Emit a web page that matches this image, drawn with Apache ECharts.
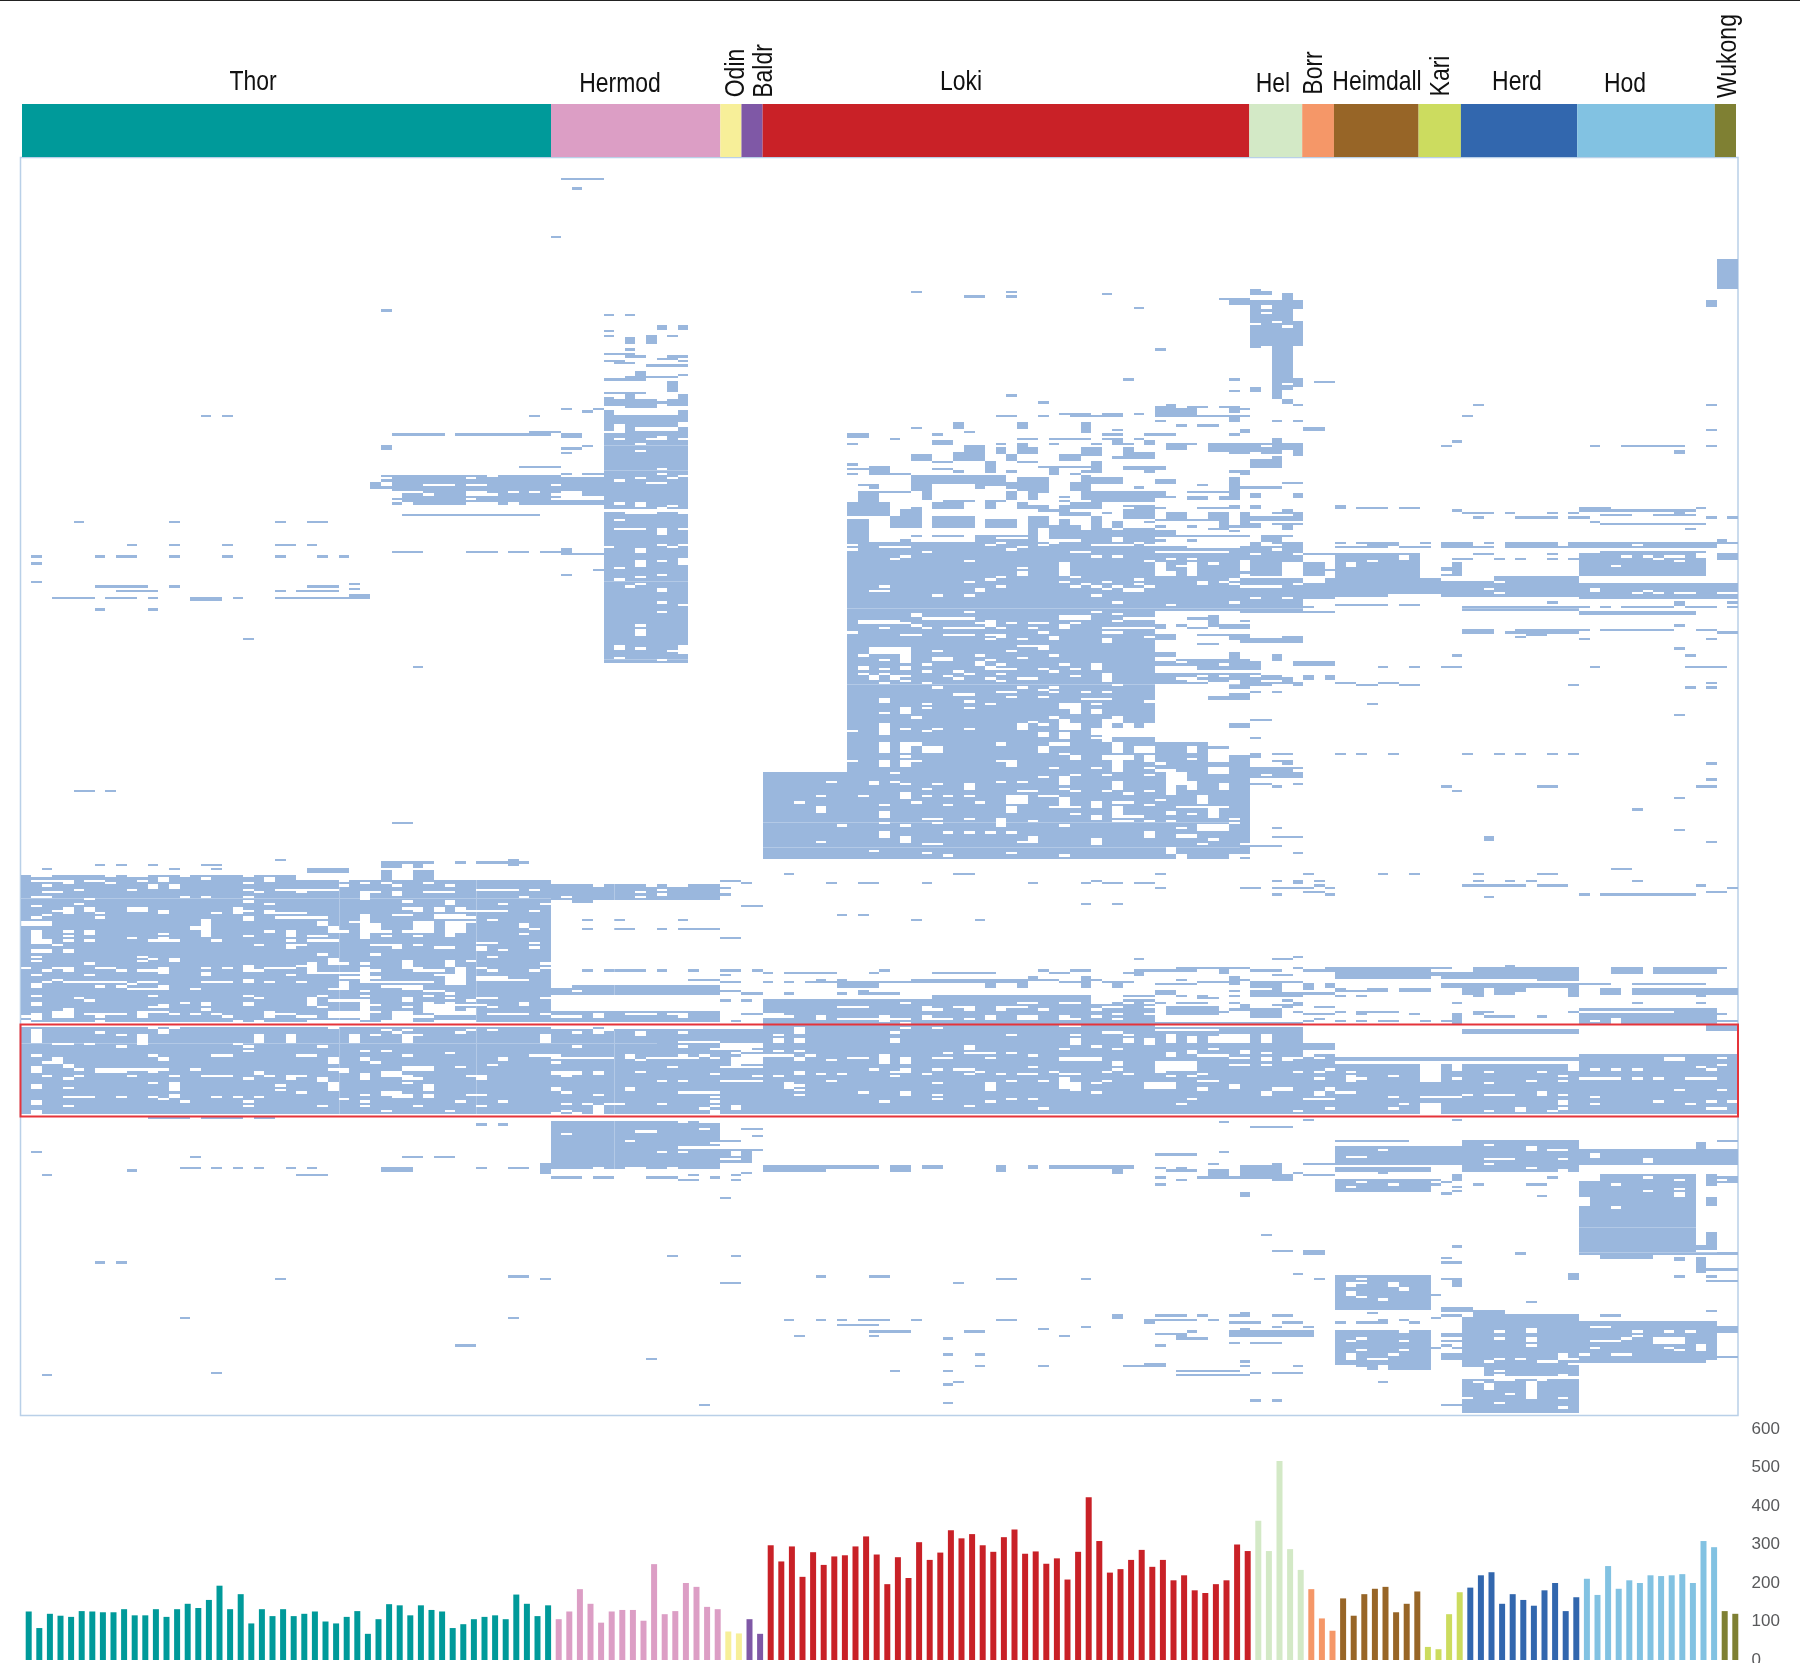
<!DOCTYPE html>
<html><head><meta charset="utf-8">
<style>html,body{margin:0;padding:0;background:#fff}#c{width:1800px;height:1663px}</style>
<script src="https://cdn.jsdelivr.net/npm/echarts@6/dist/echarts.min.js"></script></head>
<body><div id="c"></div>
<script>
const groupNames=['Thor','Hermod','Odin','Baldr','Loki','Hel','Borr','Heimdall','Kari','Herd','Hod','Wukong'];
const groupSizes=[50,16,2,2,46,5,3,8,4,11,13,2];
const groupColors=['#009a9a','#dc9ec5','#f7ef99','#7f58a6','#c92127','#d3e9c6','#f59768','#976527','#ccdc5f','#3267ae','#82c2e2','#7f8033'];
const yTicks=[0,100,200,300,400,500,600];
const thorBars=[126,83,120,115,112,127,126,124,124,132,116,116,132,112,132,146,135,156,193,132,171,95,132,114,132,114,120,126,100,95,112,127,68,106,145,142,116,142,130,126,83,93,106,112,116,106,170,146,114,142];
const hermodBars=[106,126,184,146,97,126,130,130,102,249,119,127,200,190,138,132];
const odinBars=[74,69];
const baldrBars=[106,68];
const lokiBars=[298,256,295,216,280,247,269,272,295,321,274,197,267,213,306,260,279,337,316,327,298,281,319,339,276,282,250,264,209,281,423,309,227,236,260,286,242,260,207,220,181,174,197,207,300,283];
const helBars=[362,283,517,288,234];
const borrBars=[184,108,76];
const heimdallBars=[160,115,171,185,190,124,146,178];
const kariBars=[34,28,119,176];
const herdBars=[188,220,228,146,171,156,141,181,200,127,163];
const hodBars=[211,169,244,185,207,200,220,218,220,223,200,309,293];
const wukongBars=[127,120];
const allBars=[thorBars,hermodBars,odinBars,baldrBars,lokiBars,helBars,borrBars,heimdallBars,kariBars,herdBars,hodBars,wukongBars];
const COLS=162,ROWS=547;
const highlightBand=[0,162,377,417];
// faint tile seams inside filled areas: rows [col0,col1,row], columns [col,row0,row1]
const seamRows=[[0,50,322],[0,60,385],[55,63,125],[55,63,136],[55,63,184],[55,63,218],[78,115,229],[70,115,289],[70,115,300],[78,150,196],[147,158,465],[147,160,476]];
const seamCols=[[30,312,416],[43,312,416],[56,316,364],[56,380,416],[56,419,440]];

// matrix is described as runs: filled blocks [col0,col1,row0,row1), cleared gaps, single-row runs [col0,col1,row)
const hermodFilled=[[55,63,112,220],[62,63,103,108],[61,62,105,108],[55,60,105,108],[60,61,106,108],[57,60,108,109],[57,58,103,105],[55,56,104,108],[55,56,110,112],[62,63,110,112],[58,59,93,97],[60,62,95,96],[57,60,95,96],[61,62,97,102],[35,55,138,151],[33,34,141,144],[48,50,119,121],[51,53,120,122],[34,35,125,127],[51,52,170,173],[60,61,73,75],[62,63,73,75],[57,58,78,81],[59,60,78,81],[50,66,316,323],[49,50,314,323],[52,54,323,324],[49,50,325,330],[49,50,331,340],[49,50,342,350],[49,50,353,355],[50,66,360,364],[49,50,358,365],[50,66,371,376],[50,66,419,440],[49,50,437,442],[66,69,432,437],[33,34,141,144]];
const hermodCleared=[[60,61,107,108],[55,56,119,120],[56,57,116,120],[58,59,117,119],[59,62,117,119],[62,63,115,117],[60,61,121,123],[58,59,170,172],[58,59,175,178],[62,63,174,177],[60,61,161,164],[60,61,187,189],[58,59,205,208],[56,57,212,214],[62,63,212,216],[42,44,145,147],[51,53,145,149],[53,55,147,149],[35,36,146,148],[35,36,149,150],[58,59,150,152],[57,60,154,155],[62,63,154,155],[55,63,153,154],[44,45,138,139],[51,55,138,139],[54,55,316,317],[59,60,316,317],[61,63,316,317],[50,51,360,361],[67,68,432,434],[66,68,435,436]];
const hermodThinCleared=[[56,57,122],[59,60,122],[62,63,122],[58,59,124],[58,59,127],[60,61,135],[60,61,137],[62,63,138],[61,62,139],[58,59,139],[56,57,140],[59,61,141],[56,57,150],[60,61,152],[61,62,151],[56,57,157],[56,57,161],[57,58,161],[58,59,161],[62,63,161],[55,56,169],[60,61,168],[61,62,169],[62,63,168],[60,61,175],[56,57,178],[60,61,181],[56,57,183],[58,59,182],[58,59,185],[57,58,186],[60,61,193],[62,63,194],[60,61,197],[58,59,203],[58,59,213],[61,62,214],[56,57,217],[60,61,218],[42,43,139],[38,41,142],[42,44,142],[50,51,142],[48,49,145],[35,38,145],[38,39,146],[43,44,145],[44,45,146],[46,47,145],[50,51,146],[50,51,148],[42,43,148],[42,45,150],[36,37,150],[46,47,150],[52,53,151],[51,52,321],[58,59,319],[58,59,321],[60,61,318],[60,61,320],[51,52,360],[52,53,362],[64,65,422],[51,52,424],[58,60,423],[57,58,427],[65,66,428],[62,66,430],[60,61,432],[62,63,432],[57,59,439],[61,62,439],[54,55,439],[62,63,419],[64,66,419],[50,53,373],[54,55,372],[54,55,373],[57,60,372],[61,63,372],[62,63,373]];
const hermodMarks=[[51,55,9],[52,53,13],[50,51,34],[34,35,66],[55,56,68],[57,58,68],[55,56,75],[55,56,77],[59,60,77],[61,62,77],[57,58,83],[55,58,85],[57,59,86],[60,62,87],[61,63,86],[62,63,88],[55,57,88],[56,58,89],[59,63,90],[62,63,94],[55,58,96],[55,59,102],[48,49,112],[51,52,109],[53,54,110],[54,55,109],[35,40,120],[41,50,120],[50,51,119],[51,53,126],[53,54,125],[51,52,128],[47,51,134],[51,52,137],[53,55,137],[34,35,138],[34,35,140],[34,35,143],[36,48,155],[48,49,155],[35,38,171],[42,45,171],[46,48,171],[49,51,171],[52,55,172],[54,55,179],[51,52,181],[31,32,185],[31,32,187],[31,33,190],[37,38,221],[17,18,112],[19,20,112],[68,70,325],[66,67,317],[66,67,320],[66,68,339],[53,54,331],[56,57,331],[62,63,331],[53,54,335],[56,58,335],[60,61,335],[62,66,335],[49,50,351],[53,54,353],[55,59,353],[60,61,353],[63,64,353],[66,68,353],[69,70,353],[66,67,355],[63,66,357],[66,68,358],[66,68,362],[68,70,363],[66,67,366],[68,69,366],[49,50,367],[49,50,369],[49,50,371],[49,50,373],[68,70,372],[67,68,375],[66,68,314],[68,69,315],[68,70,422],[69,70,425],[66,68,427],[66,70,431],[68,69,441],[67,68,444],[50,53,443],[54,56,443],[59,62,443],[62,64,444],[63,64,442],[65,66,443]];

const thorFilled=[[0,50,312,376],[0,50,378,416],[50,70,378,416],[27,31,309,311],[34,36,306,309],[36,39,306,307],[37,38,307,309],[46,47,305,308],[12,16,417,418],[17,21,417,418],[22,24,417,418]];
const thorThinCleared=[[1,4,314],[4,5,314],[4,5,315],[6,8,314],[8,9,315],[11,12,314],[17,18,313],[2,3,316],[21,22,315],[21,22,318],[22,23,319],[5,6,318],[10,11,318],[2,4,319],[1,3,321],[15,16,321],[17,18,321],[24,25,318],[25,26,318],[27,30,318],[30,31,314],[30,31,316],[21,22,321],[21,22,323],[23,24,324],[6,7,322],[5,6,324],[1,2,325],[3,4,327],[7,8,328],[18,19,328],[21,22,327],[21,22,330],[21,22,331],[24,27,328],[24,29,330],[2,3,329],[1,2,330],[7,8,330],[30,31,336],[4,5,336],[4,5,338],[4,5,340],[6,7,340],[10,11,339],[13,14,337],[12,15,340],[18,19,340],[21,22,338],[23,24,336],[25,26,340],[25,26,342],[27,29,338],[27,30,340],[26,27,342],[22,23,342],[3,4,342],[25,26,343],[1,2,347],[1,2,349],[11,12,347],[11,12,349],[12,13,348],[28,29,346],[6,7,350],[30,31,350],[32,33,350],[0,1,352],[2,3,353],[3,5,352],[4,5,353],[7,9,352],[9,10,353],[11,13,353],[17,18,352],[19,20,352],[22,23,353],[23,26,352],[26,27,351],[28,32,354],[30,32,356],[33,34,353],[33,34,356],[1,2,355],[6,7,355],[25,26,355],
 [1,3,312],[8,9,312],[10,12,312],[15,16,312],[21,22,312],[26,30,312],[26,30,313]];
const thorRightCleared=[[30,50,312,314],[32,33,320,323],[35,36,319,321],[37,38,326,328],[39,40,326,328],[41,42,326,328],[32,33,329,331],[39,42,329,331],[32,33,331,340],[33,34,333,337],[37,39,332,337],[40,42,332,337],[40,41,337,339],[47,48,333,335],[35,36,342,344],[43,44,343,345],[36,37,349,353],[40,41,349,352],[41,42,352,355],[40,42,355,360],[43,46,356,358],[30,31,358,362],[41,42,355,360],[1,2,359,361],[13,14,360,362],[1,2,367,369],[21,22,367,369],[27,28,365,369],[36,37,365,367],[17,18,367,369],[47,48,367,369],[39,41,369,372],[1,2,372,375],[3,5,371,374],[4,5,370,371],[11,12,371,374],[23,24,371,374],[29,32,371,374],[32,33,366,375],[35,37,371,376],[38,39,369,372],[40,43,371,373]];
const thorRightThin=[[32,33,315],[34,35,315],[35,36,316],[38,39,315],[40,41,316],[32,34,319],[38,41,319],[43,47,318],[48,49,318],[36,37,323],[40,41,323],[47,48,321],[40,41,324],[45,46,324],[49,50,324],[35,37,329],[36,37,326],[42,46,327],[48,49,327],[40,43,330],[31,32,332],[34,35,336],[34,35,338],[36,37,336],[42,43,332],[44,45,331],[48,49,335],[47,48,337],[37,38,338],[34,35,342],[33,34,342],[37,38,342],[39,41,343],[43,45,341],[45,46,344],[48,49,341],[48,49,343],[33,34,346],[44,45,347],[42,43,349],[43,44,352],[44,45,353],[37,38,352],[37,40,353],[49,50,350],[49,50,352],[48,49,353],[39,40,355],[32,39,358],[46,48,357],[2,3,358],[3,4,357],[4,10,358],[10,11,359],[11,13,358],[10,14,361],[7,8,360],[9,10,360],[16,17,361],[17,20,358],[21,22,357],[21,22,358],[23,24,358],[26,27,358],[29,30,361],[32,33,362],[34,35,360],[35,38,360],[36,38,361],[38,40,362],[40,41,363],[1,2,364],[5,6,365],[6,7,366],[12,13,364],[21,22,364],[22,23,365],[28,29,364],[29,30,366],[30,32,366],[32,33,364],[15,16,367],[38,39,364],[38,39,367],[40,41,365],[40,41,367],[42,43,366],[43,45,365],[49,50,365],[49,50,367],[33,34,368],[38,44,368],[12,14,369],[13,14,368],[28,29,369],[36,37,369],[42,43,370],[44,45,369],[6,10,372],[7,8,373],[12,14,371],[14,15,372],[16,17,372],[17,18,370],[18,19,372],[19,20,373],[24,26,372],[26,28,373],[33,34,371],[37,39,373],[39,40,372],[44,48,372],[49,50,372],[49,50,373],[0,2,373],[0,1,375],[7,8,375],[20,21,375],[22,23,375],[27,32,375],[34,35,375],[39,43,375]];
const thorCleared=[[13,14,313,315],[12,13,316,318],[14,15,316,318],[26,27,318,320],[4,5,326,329],[6,7,326,328],[10,12,326,328],[13,14,327,329],[20,21,326,329],[23,24,327,329],[0,3,332,334],[17,18,331,339],[16,17,334,336],[28,29,332,334],[29,30,334,337],[1,2,336,342],[2,3,340,342],[6,7,336,338],[13,14,339,340],[25,26,336,339],[1,3,344,346],[4,5,344,346],[14,15,348,350],[29,30,348,351],[13,14,352,355],[21,22,351,354],[17,18,354,356],[27,28,350,355],[32,33,352,358],[0,50,376,378],[23,24,313,315]];
const thorLowerCleared=[[1,2,379,385],[11,12,381,386],[13,14,379,381],[22,23,381,385],[25,26,381,385],[31,32,381,385],[36,37,381,385],[49,50,381,385],[13,14,391,393],[29,30,391,394],[32,33,391,393],[45,46,391,393],[3,4,391,394],[4,5,394,396],[1,2,396,398],[7,10,396,398],[12,13,396,398],[22,23,397,399],[25,26,399,401],[28,29,400,402],[30,31,396,398],[32,33,398,401],[34,36,397,400],[36,39,395,397],[36,37,399,401],[43,44,399,401],[1,2,403,405],[14,15,402,406],[29,30,402,406],[38,39,403,406],[14,15,407,409],[34,36,406,408],[35,37,407,409],[38,39,407,409],[1,2,410,412],[1,2,414,416]];
const thorLowerThin=[[7,8,380],[9,10,381],[12,13,378],[14,15,378],[29,30,378],[33,34,381],[34,35,379],[35,36,380],[36,37,379],[37,38,381],[41,42,380],[42,43,379],[44,45,379],[3,4,385],[4,5,385],[6,7,385],[9,10,386],[20,21,385],[21,22,386],[21,22,388],[28,29,386],[1,2,390],[12,13,390],[18,20,390],[26,28,390],[32,33,388],[33,34,393],[34,35,388],[36,37,390],[40,41,389],[44,45,394],[48,51,390],[2,3,393],[5,6,396],[1,2,395],[2,3,399],[4,5,400],[5,6,399],[10,12,396],[10,11,399],[13,14,396],[14,15,399],[16,17,396],[17,20,399],[21,22,400],[23,24,399],[26,27,399],[29,30,396],[37,38,400],[41,42,395],[42,44,399],[4,5,404],[12,13,402],[24,25,403],[24,25,405],[26,27,406],[36,37,402],[4,7,408],[9,10,408],[12,13,408],[13,14,409],[15,16,410],[18,19,408],[20,21,408],[21,22,410],[22,23,408],[30,31,409],[32,33,407],[32,33,410],[41,42,410],[42,44,407],[45,46,410],[4,5,412],[21,22,412],[28,29,412],[32,33,412],[37,38,412],[43,44,412],[34,35,414],[40,41,414],[0,6,416],[7,50,416]];
const hermodLowerCleared=[[73,74,378,381],[71,72,383,385],[73,74,383,385],[82,83,383,385],[99,100,383,386],[104,105,383,385],[106,107,383,386],[49,50,381,385],[66,70,385,387],[89,90,386,388],[67,68,391,395],[68,70,391,394],[66,70,395,396],[81,82,390,394],[83,84,391,394],[86,88,391,392],[91,92,391,392],[98,102,391,393],[103,104,393,395],[73,74,391,393],[50,53,397,399],[54,55,397,399],[73,74,397,399],[83,84,396,398],[98,99,400,405],[99,100,402,406],[106,107,402,405],[50,51,404,406],[57,58,404,406],[72,73,402,405],[91,92,402,406],[83,84,406,408],[67,68,412,414],[65,66,414,416],[54,55,412,416]];
const hermodLowerThin=[[50,54,378],[54,55,379],[55,60,378],[60,70,378],[52,53,380],[54,55,380],[55,56,379],[58,59,380],[58,59,381],[62,63,380],[71,72,381],[82,83,380],[83,84,378],[86,87,378],[93,94,381],[98,100,377],[99,100,381],[102,104,380],[104,105,381],[52,53,386],[62,66,384],[62,63,386],[65,69,387],[98,99,387],[101,102,386],[103,104,387],[71,72,388],[73,74,388],[67,68,389],[68,70,388],[68,70,390],[70,73,390],[74,75,390],[49,51,390],[57,58,390],[62,63,390],[87,88,389],[89,92,389],[93,94,389],[95,96,390],[50,56,391],[57,58,391],[58,59,392],[59,64,391],[64,65,390],[65,66,391],[50,51,393],[61,62,395],[78,80,391],[76,77,392],[95,96,395],[51,52,399],[58,59,397],[65,66,398],[69,70,399],[66,69,401],[69,70,401],[71,72,399],[75,76,398],[77,78,398],[80,81,396],[82,83,397],[82,83,399],[85,86,398],[86,87,396],[88,90,396],[89,90,398],[90,91,397],[92,93,398],[94,96,398],[97,98,397],[98,100,398],[102,103,397],[103,104,396],[104,105,398],[60,61,401],[62,63,401],[76,77,401],[86,87,402],[93,94,401],[96,97,401],[101,102,402],[102,103,401],[51,52,406],[54,55,407],[62,66,406],[73,74,403],[73,74,405],[73,74,407],[79,80,406],[101,102,406],[86,87,407],[86,87,409],[65,66,408],[65,66,410],[65,66,412],[64,65,413],[51,52,411],[53,54,411],[55,57,411],[60,61,411],[81,82,410],[91,92,410],[93,94,409],[95,96,409],[89,90,412],[96,97,413],[50,51,415],[51,52,414],[52,53,415]];

const lokiFilled=[[78,115,167,197],[78,107,197,248],[70,78,267,305],[78,103,248,305],[103,114,254,305],[114,116,260,305],[103,104,246,249],[105,106,245,250],[103,107,252,254],[107,117,219,229],[70,124,378,416],[70,84,366,378],[84,107,364,378],[70,76,438,441],[75,81,438,440],[82,84,438,441],[85,87,438,440],[92,93,438,441],[95,96,438,440],[97,105,438,440],[103,104,440,442],[116,118,265,268],[114,116,229,231],[112,115,234,236],[114,116,233,236],[114,116,246,248],[107,109,215,217],[114,115,215,221],[116,117,219,221],[112,113,199,204],[107,108,203,205],[113,116,203,205],[107,109,207,210],[114,116,207,210],[120,121,208,210],[110,115,218,222],[109,110,218,220],[107,109,220,222],[118,119,216,218],[120,123,219,221],
 [77,78,357,361],[78,81,358,361],[100,101,356,361],[103,104,358,361],[91,92,359,361],[94,95,359,361],[75,76,357,358],[79,80,362,364],
 [78,80,120,122],[86,88,123,125],[89,91,125,129],[92,93,126,129],[94,95,124,129],[95,96,126,129],[106,107,123,125],[108,110,124,127],[112,114,124,128],[114,118,124,129],[118,119,122,125],[118,119,125,129],[120,121,126,130],[100,102,126,130],[104,105,126,130],[105,107,128,131],[84,86,129,132],[88,91,128,132],[93,94,129,132],[98,100,129,132],[116,118,131,135],[118,119,130,134],[91,92,132,136],[101,102,132,137],[80,82,134,138],[97,98,135,138],[104,108,134,136],[106,107,136,137],[88,89,115,118],[94,95,115,118],[100,101,115,120],[107,109,108,113],[109,111,109,113],[114,115,108,111],[114,115,112,115],[99,101,111,113],[102,104,111,113],[103,104,122,125],
 [84,86,138,145],[86,93,138,142],[90,91,142,144],[91,94,141,143],[93,94,141,144],[94,97,139,145],[99,100,141,145],[100,101,138,149],[101,104,139,142],[95,96,145,149],[79,81,145,151],[85,86,145,149],[93,94,145,149],[101,107,145,150],[107,108,145,148],[114,115,139,149],[107,109,140,142],[110,112,147,149],[113,114,147,149],
 [86,89,150,153],[91,92,149,153],[94,95,150,153],[95,97,151,153],[98,99,151,156],[99,102,150,153],[78,82,150,156],[83,84,153,161],[84,85,152,156],[82,83,156,161],[83,85,156,161],[86,90,156,161],[91,94,157,161],[78,80,157,167],[96,97,156,161],[95,96,156,167],[98,99,157,162],[97,100,160,166],[99,101,154,156],[101,102,156,162],[100,103,162,167],[105,107,151,157],[104,105,153,157],[108,110,154,157],[112,114,154,157],[113,114,156,161],[115,116,157,161],[103,104,158,161],[103,104,162,165],[104,107,161,167],[107,109,162,165],[117,119,164,167],[90,92,164,167]];
const lokiCleared=[[80,84,213,216],[86,88,217,219],[83,84,217,220],[79,80,221,223],[83,84,221,223],[80,81,225,227],[82,83,225,227],[101,102,220,223],[102,103,224,228],[81,82,235,237],[83,84,239,242],[98,100,237,240],[99,100,240,242],[101,102,240,242],[98,99,244,249],[99,100,246,249],[102,103,244,249],[103,104,243,246],[94,95,246,249],[81,82,246,249],[81,82,249,251],[89,90,272,275],[96,97,250,252],[98,99,250,253],[101,102,248,251],[81,82,254,259],[83,84,254,259],[84,85,254,256],[85,87,256,259],[92,93,254,256],[96,97,256,259],[97,99,254,256],[103,104,254,259],[105,107,256,259],[110,111,256,259],[112,114,254,256],[112,114,257,263],[93,94,262,265],[81,82,262,265],[83,84,262,265],[99,100,260,262],[102,105,260,262],[103,104,261,267],[106,107,260,263],[112,114,265,268],[108,110,267,273],[80,81,271,273],[98,99,269,273],[103,104,271,275],[108,109,272,277],[110,111,271,275],[113,114,272,275],[111,112,277,281],[83,84,276,279],[75,76,282,285],[93,95,277,280],[98,99,278,282],[93,94,282,285],[101,102,280,283],[103,104,282,286],[81,82,284,287],[112,113,283,287],[108,109,284,286],[101,102,286,288],[92,93,288,291],[81,82,293,296],[106,107,293,296],[109,111,294,296],[111,114,290,293],[83,84,295,298],[95,96,295,298],[101,102,296,299],[108,109,300,303],[109,110,303,306],[114,116,303,306],[102,103,248,254],[104,105,246,252],[106,107,246,252],[103,104,249,252],[103,107,248,252],[85,87,256,259],
 [85,86,369,371],[75,76,373,375],[81,82,373,376],[91,92,373,375],[94,96,373,375],[98,99,373,375],[101,104,364,367],[101,103,367,368],[107,108,176,182],[108,109,180,182],[110,111,176,182],[98,99,176,182],[84,86,364,366],[121,124,378,385],[121,124,388,390]];
const lokiBandThin=[[77,80,369],[83,84,367],[86,87,370],[88,90,369],[89,90,370],[92,95,369],[92,93,370],[94,96,367],[96,97,370],[98,99,367],[99,100,367],[104,105,367],[102,104,369],[101,102,370],[70,72,372],[70,73,373],[77,81,374],[82,84,374],[83,84,376],[85,86,373],[85,86,374],[86,88,374],[89,90,374],[99,100,374],[101,102,373],[103,104,372],[103,104,374],[106,107,372],[106,107,369],[105,107,365],[106,107,367],[104,106,365]];
const lokiThin=[[83,84,216],[79,80,216],[86,87,214],[81,82,218],[85,86,220],[81,82,222],[85,86,223],[88,89,223],[79,80,224],[81,82,224],[83,84,225],[83,84,227],[87,88,225],[88,89,226],[89,90,224],[81,82,228],[85,86,228],[90,91,216],[91,92,218],[90,91,219],[90,91,220],[91,92,221],[91,92,222],[92,93,220],[92,94,222],[92,93,224],[91,92,226],[92,93,227],[94,96,226],[96,97,222],[97,98,223],[94,95,217],[93,94,214],[97,98,216],[98,99,220],[99,100,222],[99,100,225],[103,104,229],[86,87,230],[88,90,233],[92,94,232],[94,95,230],[96,97,231],[97,98,230],[97,98,232],[93,94,234],[96,97,234],[100,101,232],[102,103,232],[100,102,235],[101,102,237],[102,103,235],[106,107,236],[89,90,236],[85,86,237],[91,92,237],[89,90,239],[85,86,239],[81,82,241],[84,85,243],[97,98,243],[96,97,246],[95,96,245],[78,79,249],[83,84,248],[85,86,249],[86,87,248],[89,90,248],[101,102,252],[83,84,260],[84,85,262],[78,79,262],[92,93,262],[98,99,259],[110,111,261],[107,108,263],[97,98,265],[101,102,265],[106,107,265],[107,109,266],[82,83,267],[102,103,268],[99,100,268],[106,107,268],[76,77,271],[82,83,271],[83,84,272],[86,87,272],[85,86,274],[92,93,271],[94,95,271],[96,97,269],[98,99,274],[99,100,275],[102,103,275],[104,105,276],[106,107,275],[79,80,277],[75,76,277],[73,74,280],[81,82,281],[84,85,280],[85,86,277],[87,88,277],[87,88,281],[89,90,277],[90,91,280],[93,95,280],[94,96,275],[96,98,277],[97,100,282],[103,105,280],[107,108,279],[109,110,282],[110,114,282],[110,111,285],[106,107,281],[85,87,287],[89,90,287],[92,93,287],[99,100,285],[103,106,286],[103,105,288],[106,107,288],[108,109,288],[95,96,288],[114,115,287],[77,78,290],[81,82,289],[83,84,290],[86,87,289],[98,99,290],[114,115,289],[87,88,293],[89,90,293],[91,92,293],[93,94,293],[109,110,291],[75,76,297],[85,87,298],[94,95,297],[111,112,298],[112,113,296],[115,116,298],[80,81,301],[85,86,302],[93,94,302],[87,88,303],[98,99,303],
 [78,79,168],[78,79,170],[81,84,169],[91,92,168],[92,93,167],[94,95,169],[93,94,170],[96,97,168],[97,98,167],[99,101,171],[101,103,168],[103,105,168],[105,106,167],[106,107,168],[107,114,171],[85,86,171],[82,83,174],[83,84,173],[89,90,175],[101,102,173],[103,104,173],[106,107,175],[94,95,178],[94,95,180],[94,95,181],[99,100,182],[92,93,182],[91,92,183],[89,90,184],[81,82,186],[80,82,188],[92,93,186],[90,91,187],[90,91,188],[86,87,190],[89,90,190],[98,99,184],[99,100,186],[100,101,185],[101,102,186],[102,103,184],[102,103,187],[103,104,186],[104,106,187],[104,106,188],[105,106,183],[105,106,185],[106,107,186],[101,102,190],[103,104,193],[108,109,194],[108,109,174],[110,111,174],[109,110,177],[111,112,184],[111,112,185],[112,113,176],[113,114,184],[114,115,183],[114,115,185],[114,115,193],[89,90,197],[101,102,197],[103,104,198],[107,110,167],[107,110,168],[110,115,167],[110,115,168],[110,115,169],
 [84,85,198],[84,85,199],[85,90,200],[91,92,201],[91,92,202],[91,92,203],[90,91,202],[93,94,202],[95,97,202],[98,101,199],[98,101,200],[98,99,203],[98,99,204],[99,100,202],[103,104,201],[104,107,200],[79,83,201],[79,83,202],[81,82,204],[83,84,202],[84,85,203],[85,86,204],[87,91,204],[92,93,204],[95,96,204],[102,107,204],[102,104,206],[96,97,206],[78,79,206],[83,85,207],[87,90,207],[91,92,207],[92,93,207],[92,93,208],[91,92,209],[94,95,209],[97,98,208],[97,98,209],[102,103,209],[102,103,210],[106,107,208],[95,97,212],[96,97,213],[93,94,214],[94,95,212]];
const lokiRightThin=[[107,111,221],[107,111,222],[113,114,220],[109,110,219],[111,112,225],[113,114,225],[116,117,225],[114,115,227],[116,117,231],[110,112,227],[107,110,229],[112,116,228],[107,117,223],[109,111,226]];
const lokiMarks=[[72,73,311],[88,90,311],[107,108,311],[76,77,315],[79,81,315],[85,86,315],[95,96,315],[100,101,315],[101,102,314],[102,104,315],[105,107,315],[107,108,317],[100,101,324],[103,104,324],[77,78,329],[79,80,329],[84,85,331],[90,91,331],[105,106,348],[70,71,354],[72,77,354],[80,81,354],[81,82,353],[86,92,354],[96,97,353],[97,98,354],[97,99,354],[99,101,353],[104,105,354],[105,106,353],[105,106,354],[105,106,355],[106,108,353],[70,71,358],[72,73,358],[74,77,358],[81,84,358],[84,95,357],[84,95,358],[95,96,356],[95,98,357],[98,100,358],[101,102,357],[102,103,358],[104,105,358],[72,73,363],[80,83,363],[77,78,363],
 [110,111,200],[111,112,200],[115,116,201],[107,108,203],[109,110,203],[110,112,204],[116,119,209],[111,112,211],[112,113,211],[111,114,207],[109,114,164],
 [84,85,164],[86,89,164],[90,95,164],[83,84,166],[92,95,166],[84,85,58],[89,91,60],[93,94,58],[93,94,60],[102,103,59],[105,106,65],[107,108,83],[93,94,103],[104,105,96],[72,73,505],[75,76,505],[77,78,505],[79,82,505],[77,81,507],[73,74,512],[80,81,512],[80,84,510],[84,85,505],[87,88,513],[87,88,520],[87,88,527],[90,91,520],[89,91,510],[92,94,505],[96,97,509],[98,99,512],[100,101,508],[103,104,503],[103,104,504],[106,107,505],[107,111,505],[109,112,513],[107,108,516],[104,108,525],[109,116,529],[82,83,527],[87,88,541],[87,88,533],[88,89,532],[96,97,525],[90,91,525],[64,65,542],[59,60,522],[66,67,452],[67,68,442],[61,62,477],[66,68,489],[67,68,477],[75,76,486],[80,82,486],[88,89,489],[92,94,487],[100,101,487],
 [96,97,106],[92,94,112],[96,97,112],[98,99,111],[101,102,112],[105,106,111],[108,109,107],[110,112,108],[111,114,112],[113,114,108],[115,116,109],[115,116,112],[107,108,114],[118,119,114],[120,121,114],[84,85,117],[103,104,118],[109,110,116],[111,113,116],[115,116,118],[121,123,117],[82,83,122],[78,79,124],[86,87,120],[89,90,119],[94,96,122],[97,101,122],[102,104,120],[102,103,122],[105,106,122],[106,109,120],[114,115,120],[92,93,124],[97,98,124],[101,102,124],[104,105,124],[110,111,124],[103,106,130],[86,88,132],[94,96,132],[78,79,133],[78,80,135],[86,88,135],[88,89,136],[91,92,136],[93,94,136],[96,101,134],[100,101,136],[78,79,137],[82,84,137],[99,100,137],[114,116,136],[79,81,142],[80,81,143],[111,112,142],[114,119,143],[119,121,141],[105,106,143],[96,97,145],[81,84,145],[110,114,145],[108,109,147],[116,117,146],[120,121,146],[98,99,147],[98,99,149],[87,90,149],[92,93,149],[96,99,153],[104,105,151],[107,108,152],[111,114,152],[114,115,151],[114,115,152],[116,117,151],[124,125,151],[102,103,154],[115,116,154],[115,116,155],[118,120,154],[120,121,155],[107,113,157],[116,121,156],[116,121,157],[116,117,159],[116,117,160],[118,121,159],[119,120,160],[119,120,161],[106,107,158],[107,108,160],[110,111,160],[112,114,161],[114,115,160],[114,115,162],[102,103,161],[107,108,164],[107,108,166],[114,115,164],[119,120,164],[110,111,166]];

const helFilled=[[116,117,57,60],[117,118,58,60],[119,120,59,62],[114,116,61,64],[116,121,62,66],[116,120,66,72],[116,121,71,82],[116,117,82,83],[118,120,82,101],[119,121,96,100],[118,119,101,105],[119,120,105,107],[116,117,100,102],[160,162,44,57],[159,160,62,65],[115,116,124,129],[116,118,124,128],[118,121,125,127],[120,121,127,129],[116,119,131,135],[115,116,169,175],[116,119,167,182],[119,121,167,176],[115,121,183,196],[121,124,185,192],[123,124,183,185],[121,123,176,182],[115,119,196,198],[119,121,195,198],[115,116,203,205],[115,121,209,211],[118,119,217,219],[115,116,218,223],[116,117,219,221],[120,122,219,221],[123,124,219,221],[115,119,225,227],[119,120,226,228],[121,122,225,227],[123,124,225,227],[115,116,233,236],[115,116,260,275],[116,121,265,270],[116,117,259,261],[119,120,262,264],[115,116,279,281],[115,116,284,288],[115,116,293,298],[115,116,298,302],[120,121,314,316],[138,139,295,297],[115,116,157,159],[119,120,159,162],[118,119,217,219]];
const helCleared=[[117,118,64,66],[120,121,66,71],[117,118,167,169],[119,120,179,182],[117,118,67,68]];
const helThin=[[113,114,62],[112,113,59],[116,117,72],[118,119,71],[119,120,73],[117,118,67],[119,120,98],[116,117,172],[120,121,172],[118,119,168],[118,119,170],[116,119,182],[115,119,186],[116,117,191],[119,120,191],[120,121,185],[117,118,268],[120,121,266],[117,118,125],[119,120,130],[116,117,128]];
const helMarks=[[115,116,109],[115,116,112],[118,119,114],[120,121,114],[121,123,118],[115,116,119],[119,120,106],[120,121,107],[122,124,97],[114,115,96],[114,115,101],[104,105,96],[118,119,122],[119,121,124],[115,116,137],[119,121,141],[115,119,143],[116,117,147],[120,121,147],[116,117,152],[118,119,154],[119,120,153],[120,121,154],[115,116,154],[115,121,156],[116,117,160],[118,119,159],[120,121,159],[115,116,164],[117,118,165],[118,119,164],[115,116,180],[121,124,172],[123,124,179],[121,122,195],[121,124,197],[115,116,201],[119,121,208],[116,117,232],[118,119,232],[115,121,228],[116,118,229],[120,121,229],[116,117,244],[117,118,244],[115,116,247],[116,117,252],[116,117,259],[118,120,259],[118,119,262],[116,118,272],[118,119,273],[120,121,272],[118,119,291],[118,121,295],[116,119,299],[120,121,302],[115,116,304],[121,122,311],[118,119,314],[122,123,314],[115,117,317],[118,122,317],[122,123,316],[123,124,317],[118,119,320],[121,123,319],[123,124,320],[121,124,197],[113,116,61],[121,123,220],[121,122,385]];

const heimFilled=[[124,132,172,183],[124,134,183,190],[134,139,184,191],[139,147,182,191],[124,129,190,191],[127,130,167,170],[134,137,167,170],[136,139,169,170],[140,145,167,170],[146,156,167,170],[156,160,167,170],[160,161,166,168],[134,135,178,180],[135,136,176,182],[147,159,171,183],[147,162,185,192],[160,162,172,175],[136,138,195,197],[147,158,197,199],[136,139,205,207],[141,147,205,207],[123,135,352,353],[124,133,352,357],[132,134,354,356],[134,137,354,357],[137,143,352,357],[143,147,352,358],[150,153,352,355],[154,158,352,355],[158,161,352,355],[124,133,361,363],[134,147,359,361],[137,138,359,365],[136,137,361,364],[139,141,361,364],[141,142,359,363],[146,147,361,365],[149,151,361,364],[152,161,361,364],[160,162,361,364],[124,162,391,416],[147,162,390,391],[136,147,427,441],[124,133,430,438],[133,136,430,438],[147,162,431,438],[158,159,428,431],[160,162,427,428],[147,160,370,377],[135,136,372,377],[136,147,379,381],[159,162,377,380],[124,133,439,441],[128,129,441,442],[124,133,444,450],[135,136,442,445],[124,133,486,501],[124,133,510,527],[134,136,511,513],[134,136,520,523],[147,158,445,476],[149,158,442,445],[159,160,442,447],[160,162,443,446],[159,160,452,456],[157,160,468,475],[159,160,467,475],[149,154,477,479],[156,157,478,480],[158,159,478,485],[146,147,485,488],[135,136,487,490],[136,147,507,526],[138,147,525,530],[136,147,531,546],[147,160,506,523],[159,160,514,520],[160,162,508,511],[134,137,500,502],[137,140,501,504],[139,147,503,505],[144,146,503,507],[136,140,504,508],[140,147,505,507],[115,118,438,444],[112,114,440,443],[118,119,437,445],[119,120,442,445],[116,122,510,513],[114,120,510,513],[121,123,385,388],[121,122,379,381],[123,124,379,381],[121,124,390,391]];
const heimCleared=[[125,126,176,178],[130,131,173,175],[148,149,187,189],[147,156,182,185],[138,139,187,188],[152,153,168,169],[147,159,182,183],[143,144,406,408],[145,146,410,412],[132,134,393,402],[135,136,394,397],[146,147,393,397],[155,157,391,393],[107,111,393,397],[108,109,381,385],[110,111,382,385],[112,113,382,385],[113,116,381,385],[117,118,381,385],[110,111,388,390],[108,109,389,391],[115,116,388,390],[121,122,389,391],[119,120,391,393],[117,118,391,393],[125,126,399,402],[107,108,402,405],[108,109,402,405],[111,112,404,406],[114,115,403,405],[123,124,404,406],[122,123,406,408],[117,118,406,408],[132,134,411,416],[141,142,413,415],[142,143,430,432],[148,149,433,435],[153,154,435,437],[119,120,432,434],[160,161,353,355],[147,156,371,372],[129,130,169,170],[124,136,393,394],[108,113,379,380],[136,147,393,394],[147,148,452,456],[142,143,509,511],[142,143,513,515],[145,146,520,523],[138,139,533,536],[142,143,532,540],[145,147,529,531],[158,159,468,473],[125,126,489,491],[129,130,489,491],[130,131,491,493],[125,126,493,495],[125,126,520,523],[124,126,524,526],[128,129,525,527],[154,157,513,516],[158,159,516,519],[136,137,526,531],[137,138,526,528],[156,157,450,452],[124,127,526,527]];
const heimThin=[[127,128,175],[151,152,173],[153,154,173],[154,155,174],[155,157,173],[156,157,175],[158,159,172],[158,159,173],[150,151,177],[139,140,184],[139,140,189],[152,153,189],[153,154,188],[154,155,189],[156,158,189],[160,162,189],[138,139,187],[147,149,171],[129,131,190],[156,157,196],[148,149,377],[150,151,374],[150,151,376],[149,156,371],[129,130,361],[107,111,379],[136,137,381],[138,139,429],[142,143,430],[144,146,431],[138,141,435],[138,139,437],[142,143,439],[145,146,440],[145,146,435],[128,129,431],[125,127,434],[124,125,406],[121,124,409],[129,130,408],[130,131,411],[129,130,413],[123,124,413],[120,121,414],[132,136,408],[136,137,407],[138,141,407],[138,139,402],[142,143,401],[145,146,399],[145,146,401],[143,144,397],[147,151,400],[152,153,396],[152,153,400],[150,151,396],[148,149,396],[154,155,400],[157,160,400],[158,159,395],[159,160,396],[160,161,391],[160,161,394],[156,157,405],[160,161,405],[138,139,414],[144,145,414],[145,146,413],[148,149,408],[148,149,411],[145,146,407],[154,155,410],[157,158,411],[159,160,410],[161,162,410],[159,161,413],[107,108,397],[108,109,399],[110,111,399],[111,112,398],[120,121,397],[122,123,397],[123,124,396],[122,123,400],[125,126,397],[126,127,400],[129,130,399],[135,136,400],[138,139,397],[142,143,401],[111,113,401],[114,115,404],[118,120,404],[118,120,405],[120,121,391],[122,123,391],[111,114,390],[112,113,387],[117,118,389],[117,118,394],[114,116,391],[114,116,394],[125,126,406],[109,110,411],[110,111,409],[148,150,508],[152,153,510],[155,156,510],[157,158,510],[148,150,514],[150,151,514],[151,152,513],[152,153,512],[148,149,517],[147,148,520],[150,152,520],[155,156,517],[156,157,518],[139,140,510],[139,140,513],[142,143,516],[138,139,523],[139,140,522],[141,142,522],[143,145,523],[146,147,522],[146,147,524],[139,140,527],[139,140,529],[137,138,532],[139,141,531],[140,141,537],[143,144,531],[145,146,539],[136,137,539],[139,140,541],[145,146,543],[126,127,487],[126,127,489],[128,129,496],[126,127,495],[130,131,510],[125,126,514],[126,127,513],[130,131,514],[126,127,518],[130,131,518],[129,130,520],[127,129,522],[126,127,445],[125,126,447],[129,130,446],[150,151,446],[153,154,443],[156,157,444],[153,154,449],[156,157,448],[150,151,456],[160,161,444],[125,127,361],[129,130,362],[138,139,363],[136,147,366],[148,149,375],[150,151,375],[124,133,364],[126,127,387]];
const rightMarks=[[137,138,107],[136,137,112],[159,160,107],[159,160,118],[135,136,123],[134,135,125],[148,149,125],[151,157,125],[156,157,127],[156,157,128],[159,160,125],[124,125,152],[126,129,152],[130,132,152],[135,136,153],[147,150,152],[158,159,152],[136,139,154],[140,141,154],[144,145,154],[146,147,154],[147,158,153],[149,152,155],[154,158,155],[156,157,154],[137,138,156],[141,145,156],[146,148,156],[159,160,156],[161,162,156],[148,149,158],[149,159,159],[157,158,161],[124,125,167],[126,127,167],[132,133,167],[138,139,167],[124,129,169],[130,132,169],[132,133,169],[145,146,169],[160,162,167],[137,139,172],[144,145,172],[135,137,174],[139,140,174],[141,142,174],[144,145,174],[146,147,174],[134,135,181],[144,145,193],[124,129,194],[130,132,194],[161,162,193],[161,162,195],[136,147,195],[147,148,195],[149,150,195],[151,156,195],[156,157,193],[156,157,194],[157,158,195],[158,160,195],[138,147,196],[140,147,206],[147,148,205],[149,155,205],[155,156,205],[158,160,205],[160,162,206],[141,142,208],[142,144,207],[147,148,209],[159,160,209],[156,157,203],[156,157,213],[135,136,216],[157,158,216],[128,129,221],[131,132,221],[134,136,221],[148,149,221],[157,161,221],[124,126,228],[126,128,229],[128,130,228],[130,132,229],[146,147,229],[157,158,230],[159,160,228],[159,160,230],[127,128,237],[156,157,242],[124,125,259],[126,127,259],[129,130,259],[136,137,259],[139,140,259],[141,142,259],[144,145,259],[146,147,259],[159,160,263],[159,160,270],[134,135,273],[135,136,275],[143,145,273],[158,160,273],[156,157,278],[152,153,283],[156,157,292],[159,160,297],[128,129,311],[131,132,311],[137,138,311],[143,145,311],[150,152,309],[137,138,314],[140,141,314],[142,143,314],[152,153,314],[136,142,316],[143,146,316],[158,159,316],[161,162,317],[138,139,321],[147,148,320],[149,158,320],[159,161,319],
 [118,120,348],[120,121,347],[140,141,351],[107,109,353],[109,111,352],[109,111,353],[113,114,352],[113,114,353],[113,114,354],[111,116,352],[116,119,353],[118,120,355],[120,121,352],[121,124,353],[109,110,357],[111,114,358],[107,111,359],[114,115,356],[114,115,357],[114,115,358],[114,115,359],[115,116,357],[116,119,358],[116,119,359],[116,119,360],[119,121,358],[121,122,359],[121,122,360],[121,122,361],[123,124,359],[123,124,360],[147,150,359],[152,159,359],[134,136,359],[107,109,362],[107,109,363],[109,110,364],[111,112,364],[114,115,362],[114,115,364],[116,119,362],[116,119,363],[116,119,364],[118,119,361],[119,121,363],[119,121,364],[121,124,363],[124,125,364],[126,127,364],[107,108,367],[109,112,367],[111,113,365],[114,115,367],[119,120,366],[120,121,367],[135,136,367],[152,153,367],[158,159,367],[158,159,364],
 [108,113,369],[108,113,370],[108,113,371],[108,113,372],[115,116,368],[115,116,369],[115,116,370],[116,119,370],[116,119,371],[116,119,372],[116,119,373],[114,115,370],[113,114,371],[118,120,368],[119,120,369],[120,121,368],[122,124,369],[121,124,372],[120,121,371],[121,122,375],[122,123,374],[124,125,371],[126,127,371],[126,127,372],[127,130,371],[131,132,372],[124,125,375],[126,127,375],[128,130,375],[132,133,375],[134,135,375],[137,138,371],[137,138,372],[138,139,371],[138,141,373],[143,144,373],[146,147,371],[159,160,370],[160,161,372],[160,162,375],[107,121,376],[113,114,419],[116,120,421],[121,122,418],[135,136,418],[124,131,427],[107,111,433],[113,114,432],[112,113,437],[107,108,439],[109,110,439],[108,111,440],[111,114,443],[107,108,443],[109,110,444],[107,108,446],[114,115,443],[121,124,437],[121,124,442],[120,121,441],[115,116,451],[142,144,446],[137,138,446],[143,144,451],[144,145,443],[133,134,444],[134,135,445],[132,134,446],[135,136,447],[132,133,448],[135,136,449],[134,135,450],[115,116,450],[117,118,468],[118,120,475],[121,123,475],[121,123,476],[120,121,485],[122,123,487],[141,142,476],[135,136,473],[134,135,478],[134,136,480],[147,162,476],[159,162,483],[156,157,486],[159,160,486],[159,162,488],[134,135,487],[135,136,490],[133,134,494],[142,143,497],[134,135,500],[127,128,502],[134,136,503],[133,134,504],[146,147,503],[149,151,503],[159,160,501],[107,110,503],[111,112,503],[114,115,503],[115,116,502],[115,116,503],[118,120,503],[112,113,505],[106,107,506],[114,117,506],[119,121,506],[118,119,508],[121,122,508],[115,116,509],[124,125,506],[126,127,506],[127,129,506],[128,129,505],[130,131,505],[131,132,506],[107,109,511],[109,110,511],[109,110,512],[110,111,510],[114,115,515],[116,119,515],[132,133,516],[133,134,517],[134,135,516],[134,135,514],[135,136,514],[135,136,517],[106,108,524],[115,116,523],[115,116,525],[120,121,525],[109,115,527],[116,117,528],[118,121,528],[128,129,532],[116,117,540],[118,119,540],[134,136,542],[160,162,521],[147,159,523],[132,133,525],[124,126,524],[146,147,527],[146,147,529]];
const sparseLeftMarks=[[5,6,158],[10,11,168],[14,15,158],[19,20,168],[24,25,158],[27,29,158],[1,2,173],[7,8,173],[9,11,173],[14,15,173],[19,20,173],[24,25,173],[28,29,173],[30,31,173],[14,15,168],[24,26,168],[27,28,168],[1,2,176],[1,2,184],[7,12,186],[14,15,186],[27,30,186],[9,13,188],[24,25,188],[26,30,188],[3,7,191],[8,11,191],[12,13,191],[16,19,191],[16,19,192],[20,21,191],[24,27,191],[27,33,191],[7,8,196],[12,13,196],[21,22,209],[5,7,275],[8,9,275],[35,37,289],[24,25,305],[7,8,307],[9,10,307],[12,13,307],[17,19,307],[2,3,309],[14,15,309],[18,19,309],[41,42,306],[43,46,306],[47,48,306],[43,44,420],[45,46,420],[1,2,432],[2,3,442],[10,11,440],[15,17,439],[16,17,434],[18,19,439],[20,21,439],[22,23,439],[25,26,439],[27,28,439],[26,29,442],[34,37,439],[34,37,440],[36,38,434],[39,41,434],[43,44,439],[46,48,439],[49,50,439],[7,8,480],[9,10,480],[24,25,487],[46,48,486],[49,50,487],[15,16,504],[46,47,504],[41,43,516],[18,19,528],[2,3,529],[34,35,310],[34,35,311],[34,35,312],[34,35,313],[37,39,310],[37,39,311],[37,39,312],[37,39,313]];

const matrix=new Uint8Array(COLS*ROWS);
function paint(c0,c1,r0,r1,v){for(let r=r0;r<r1;r++)for(let c=c0;c<c1;c++)if(c>=0&&c<COLS&&r>=0&&r<ROWS)matrix[r*COLS+c]=v;}
[hermodFilled,thorFilled,lokiFilled,helFilled,heimFilled].forEach(a=>a.forEach(b=>paint(b[0],b[1],b[2],b[3],1)));
[hermodCleared,thorCleared,thorRightCleared,thorLowerCleared,hermodLowerCleared,lokiCleared,helCleared,heimCleared].forEach(a=>a.forEach(b=>paint(b[0],b[1],b[2],b[3],0)));
[hermodThinCleared,thorThinCleared,thorRightThin,thorLowerThin,hermodLowerThin,lokiBandThin,lokiThin,lokiRightThin,helThin,heimThin].forEach(a=>a.forEach(b=>paint(b[0],b[1],b[2],b[2]+1,0)));
[hermodMarks,lokiMarks,helMarks,rightMarks,sparseLeftMarks].forEach(a=>a.forEach(b=>paint(b[0],b[1],b[2],b[2]+1,1)));
const heatRuns=[];
for(let r=0;r<ROWS;r++){let c=0;while(c<COLS){if(matrix[r*COLS+c]){let e=c;while(e<COLS&&matrix[r*COLS+e])e++;heatRuns.push([c,e,r,r+1]);c=e;}else c++;}}
// seam segments only where the cell is filled
const seamSegs=[];
seamRows.forEach(s=>{for(let c=s[0];c<s[1];c++)if(matrix[s[2]*COLS+c])seamSegs.push([c,c+1,s[2],s[2]]);});
seamCols.forEach(s=>{for(let r=s[1];r<s[2];r++)if(matrix[r*COLS+s[0]])seamSegs.push([s[0],s[0],r,r+1]);});

const colCats=Array.from({length:COLS},(_,i)=>i);
const barData=[];allBars.forEach((g,gi)=>g.forEach(v=>barData.push({value:v,itemStyle:{color:groupColors[gi]}})));
const NARROW='"Liberation Sans",Arial,sans-serif';
const labelSpots=[[253,82,0],[620,84,0],[736,73,1],[764,71,1],[961,82,0],[1273,84,0],[1314,73,1],[1377,82,0],[1441,76,1],[1517,82,0],[1625,84,0],[1728,56,1]];
const chart=echarts.init(document.getElementById('c'),null,{renderer:'canvas'});
chart.setOption({
 animation:false,backgroundColor:'#fff',
 grid:[
  {left:20.5,top:157.5,width:1717.5,height:1258,show:true,borderColor:'#b9d0e8',borderWidth:1.5,backgroundColor:'#fff',outerBoundsMode:'none'},
  {left:23.4,top:1429,width:1717.2,height:231,show:false,outerBoundsMode:'none'},
  {left:22,top:104,width:1714,height:53,show:false,outerBoundsMode:'none'}
 ],
 xAxis:[
  {gridIndex:0,type:'value',min:0,max:COLS,show:false},
  {gridIndex:1,type:'category',data:colCats,show:false},
  {gridIndex:2,type:'value',min:0,max:COLS,show:false}
 ],
 yAxis:[
  {gridIndex:0,type:'value',min:0,max:ROWS,inverse:true,show:false},
  {gridIndex:1,type:'value',min:0,max:600,interval:100,position:'right',axisLine:{show:false},axisTick:{show:false},splitLine:{show:false},
   axisLabel:{show:true,color:'#58595b',fontFamily:NARROW,fontSize:17,margin:11,padding:[0,0,7,0],formatter:v=>yTicks.includes(v)?String(v):''}},
  {gridIndex:2,type:'category',data:['groups'],show:false}
 ],
 series:[
  {type:'custom',xAxisIndex:0,yAxisIndex:0,data:heatRuns,progressive:0,silent:true,encode:{x:[0,1],y:[2,3]},clip:false,
   renderItem:(p,api)=>{const a=api.coord([api.value(0),api.value(2)]),b=api.coord([api.value(1),api.value(3)]);
    const x=Math.round(a[0]),y=Math.round(a[1]);
    return {type:'rect',shape:{x:x,y:y,width:Math.round(b[0])-x,height:Math.round(b[1])-y},style:{fill:'#9ab7dd'}};}},
  {type:'custom',xAxisIndex:0,yAxisIndex:0,data:seamSegs,progressive:0,silent:true,z:3,encode:{x:[0,1],y:[2,3]},clip:false,
   renderItem:(p,api)=>{const a=api.coord([api.value(0),api.value(2)]),b=api.coord([api.value(1),api.value(3)]);
    return {type:'rect',shape:{x:Math.round(a[0]),y:Math.round(a[1]),width:Math.max(1,Math.round(b[0])-Math.round(a[0])),height:Math.max(1,Math.round(b[1])-Math.round(a[1]))},style:{fill:'#b3c9e6'}};}},
  {type:'custom',xAxisIndex:0,yAxisIndex:0,silent:true,z:5,data:[highlightBand],encode:{x:[0,1],y:[2,3]},
   renderItem:(p,api)=>{const a=api.coord([api.value(0),api.value(2)]),b=api.coord([api.value(1),api.value(3)]);
    return {type:'rect',shape:{x:a[0],y:a[1],width:b[0]-a[0],height:b[1]-a[1]},style:{fill:null,stroke:'#e5343b',lineWidth:2}};}},
  {type:'bar',xAxisIndex:1,yAxisIndex:1,data:barData,barWidth:6,silent:true},
  ...groupNames.map((n,i)=>({type:'bar',name:n,stack:'g',xAxisIndex:2,yAxisIndex:2,data:[groupSizes[i]],barWidth:53,silent:true,itemStyle:{color:groupColors[i]}}))
 ],
 graphic:[
  {type:'rect',shape:{x:0,y:0,width:1800,height:1},style:{fill:'#222'},silent:true},
  ...groupNames.map((n,i)=>{const s=labelSpots[i];return {type:'text',x:s[0],y:s[1],rotation:s[2]?Math.PI/2:0,scaleX:0.82,silent:true,
    style:{text:n,fill:'#111',font:'28px '+NARROW,textAlign:'center',textVerticalAlign:'middle'}};})
 ]
});
</script></body></html>
